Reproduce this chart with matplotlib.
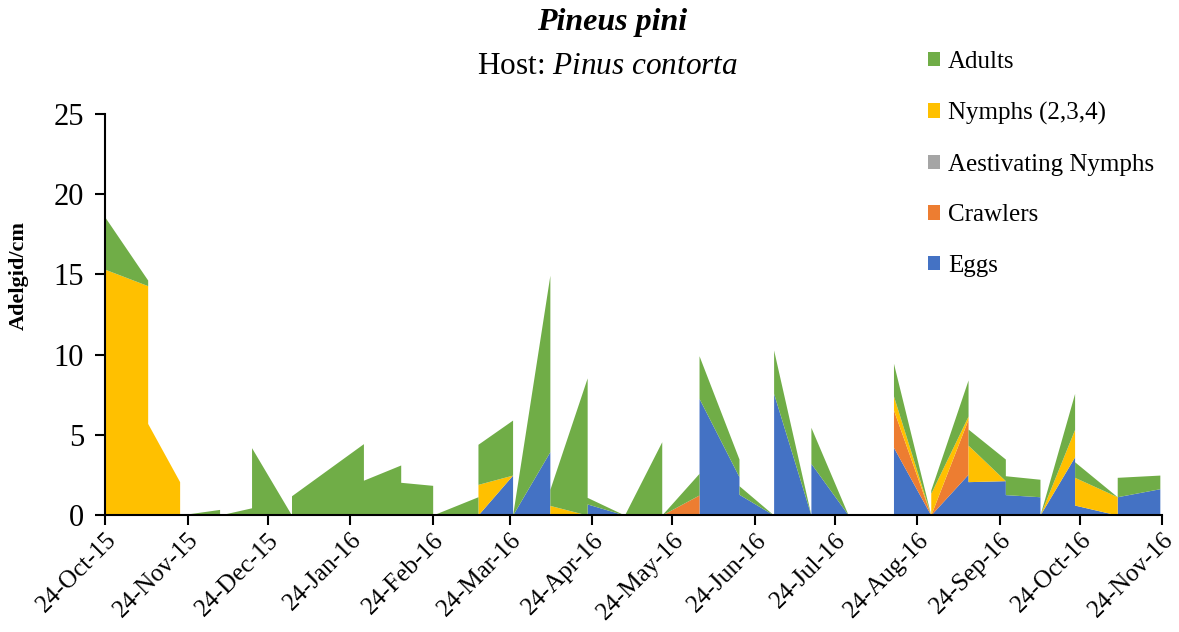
import numpy as np
import matplotlib
matplotlib.use("Agg")
import matplotlib.pyplot as plt
import matplotlib.dates as mdates
from matplotlib.patches import Patch

# Sampling dates; each stage is given as (start, end) density for the interval
# between consecutive dates, so neighbouring intervals can jump.
dates = np.array([
    "2015-10-24", "2015-11-09", "2015-11-21", "2015-12-06", "2015-12-18",
    "2016-01-02", "2016-01-29", "2016-02-12", "2016-02-24", "2016-03-12",
    "2016-03-25", "2016-04-08", "2016-04-22", "2016-05-06", "2016-05-20",
    "2016-06-03", "2016-06-18", "2016-07-01", "2016-07-15", "2016-07-29",
    "2016-08-15", "2016-08-29", "2016-09-12", "2016-09-26", "2016-10-09",
    "2016-10-22", "2016-11-07", "2016-11-23"], dtype="datetime64[D]")

eggs = [(0, 0), (0, 0), (0, 0), (0, 0), (0, 0), (0, 0), (0, 0), (0, 0), (0, 0),
        (0, 2.49), (0, 3.95), (0, 0), (0.69, 0), (0, 0), (0, 0), (7.27, 2.39),
        (1.29, 0), (7.58, 0), (3.22, 0), (0, 0), (4.22, 0), (0, 2.54),
        (2.08, 2.14), (1.27, 1.14), (0, 3.63), (0.62, 0), (1.14, 1.64)]
crawlers = [(0, 0)] * 14 + [(0, 1.25)] + [(0, 0)] * 5 + [(2.33, 0), (0, 3.43)] + [(0, 0)] * 5
aestivating = [(0, 0)] * 27
nymphs = [(15.32, 14.3), (5.71, 2.08), (0, 0), (0, 0), (0, 0), (0, 0), (0, 0),
          (0, 0), (0, 0), (1.91, 0), (0, 0), (0.6, 0), (0, 0), (0, 0), (0, 0),
          (0, 0), (0, 0), (0, 0), (0, 0), (0, 0), (0.87, 0), (1.35, 0.2),
          (2.28, 0), (0, 0), (0, 1.71), (1.73, 1.14), (0, 0)]
adults = [(3.24, 0.35), (0, 0), (0, 0.35), (0, 0.45), (4.2, 0), (1.2, 4.45),
          (2.17, 3.12), (2.04, 1.85), (0, 1.14), (2.5, 3.43), (0, 11.0),
          (1.0, 8.55), (0.41, 0), (0, 4.57), (0, 1.35), (2.66, 1.1), (0.54, 0),
          (2.71, 0), (2.25, 0), (0, 0), (2.04, 0), (0.21, 2.25), (1.0, 1.35),
          (1.18, 1.09), (0, 2.24), (0.97, 0), (1.21, 0.85)]

stages = ["Eggs", "Crawlers", "Aestivating Nymphs", "Nymphs (2,3,4)", "Adults"]
colors = ["#4472C4", "#ED7D31", "#A5A5A5", "#FFC000", "#70AD47"]

plt.rcParams["font.family"] = ["Liberation Serif", "DejaVu Serif"]
plt.rcParams["mathtext.fontset"] = "custom"
plt.rcParams["mathtext.rm"] = "Liberation Serif"
plt.rcParams["mathtext.it"] = "Liberation Serif:italic"

# every interval gets its own pair of x positions -> vertical jumps at the dates
x = np.repeat(dates, 2)[1:-1]

fig = plt.figure(figsize=(11.79, 6.32), dpi=100)
ax = fig.add_axes([0.0891, 0.1851, 0.8969, 0.6345])

base = np.zeros(len(x))
for name, series, color in zip(stages, [eggs, crawlers, aestivating, nymphs, adults], colors):
    vals = np.array(series, dtype=float).ravel()
    ax.fill_between(x, base, base + vals, color=color, lw=0)
    base = base + vals

ax.set_xlim(np.datetime64("2015-10-24"), np.datetime64("2016-11-24"))
ax.set_ylim(0, 25)
ax.set_yticks([0, 5, 10, 15, 20, 25])
ax.xaxis.set_major_locator(mdates.MonthLocator(bymonthday=24))
ax.xaxis.set_major_formatter(mdates.DateFormatter("%d-%b-%y"))

for side in ["top", "right"]:
    ax.spines[side].set_visible(False)
for side in ["left", "bottom"]:
    ax.spines[side].set_linewidth(1.5)
ax.tick_params(axis="both", direction="out", length=7, width=1.5)
ax.tick_params(axis="x", labelsize=18, pad=3)
ax.tick_params(axis="y", labelsize=22, pad=8)
plt.setp(ax.get_xticklabels(), rotation=45, ha="right", rotation_mode="anchor")

fig.text(0.016, 1 - 276 / 632, "Adelgid/cm", fontsize=16, fontweight="bold",
         rotation=90, ha="center", va="center")

fig.text(0.519, 0.965, "Pineus pini", fontsize=23, fontweight="bold",
         style="italic", ha="center", va="center")
fig.text(0.515, 0.895, r"Host: $\mathit{Pinus\ contorta}$", fontsize=22.5,
         ha="center", va="center")

handles = [Patch(facecolor=c, label=n) for n, c in zip(stages, colors)][::-1]
fig.legend(handles=handles, loc="upper left", bbox_to_anchor=(0.768, 0.955),
           frameon=False, fontsize=18, handlelength=0.5, handleheight=0.5,
           handletextpad=0.3, labelspacing=1.15)

fig.savefig("out.png", dpi=100)
